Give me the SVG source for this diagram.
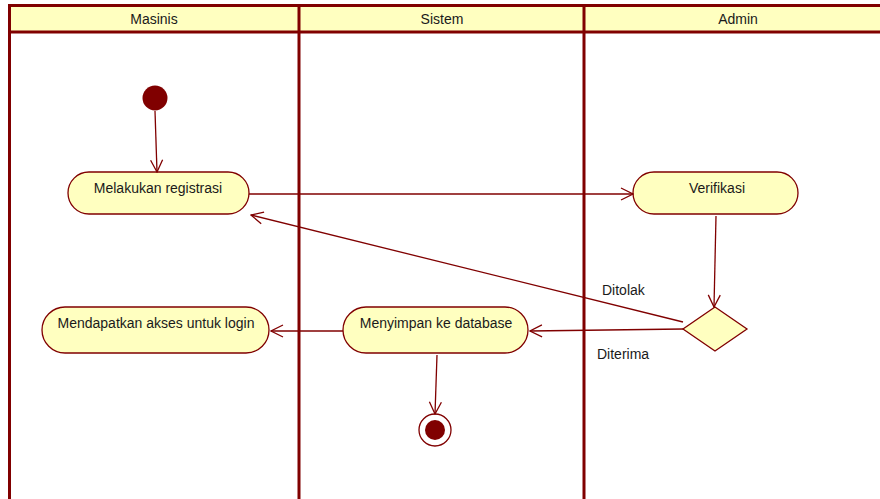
<svg xmlns="http://www.w3.org/2000/svg" width="880" height="499" viewBox="0 0 880 499">
  <style>
    .lane { stroke: #800000; stroke-width: 3; fill: none; }
    .head { fill: #ffffc0; }
    .act { fill: #ffffc0; stroke: #800000; stroke-width: 1.3; }
    .txt { font-family: "Liberation Sans", Arial, sans-serif; font-size: 14px; fill: #1a1a1a; text-anchor: middle; }
    .lbl { font-family: "Liberation Sans", Arial, sans-serif; font-size: 14px; fill: #1a1a1a; }
    .flow { stroke: #800000; stroke-width: 1.3; fill: none; marker-end: url(#open); }
  </style>
  <defs>
    <marker id="open" viewBox="0 0 14 14" refX="13" refY="7" markerWidth="14" markerHeight="14" markerUnits="userSpaceOnUse" orient="auto">
      <path d="M1,1 L13,7 L1,13" fill="none" stroke="#800000" stroke-width="1.3"/>
    </marker>
  </defs>
  <rect width="880" height="499" fill="#ffffff"/>

  <!-- swimlanes -->
  <g id="lanes">
    <rect class="head" x="9" y="5" width="871" height="27"/>
    <line class="lane" x1="9" y1="5.5" x2="880" y2="5.5"/>
    <line class="lane" x1="9" y1="32" x2="880" y2="32"/>
    <line class="lane" x1="9.5" y1="4" x2="9.5" y2="499"/>
    <line class="lane" x1="299" y1="4" x2="299" y2="499"/>
    <line class="lane" x1="584" y1="4" x2="584" y2="499"/>
    <text class="txt" x="154" y="24">Masinis</text>
    <text class="txt" x="442" y="24">Sistem</text>
    <text class="txt" x="738" y="24">Admin</text>
  </g>

  <!-- nodes -->
  <g id="start">
    <circle cx="155" cy="98" r="12.5" fill="#800000"/>
  </g>
  <g id="registrasi">
    <rect class="act" x="68" y="172" width="181" height="42" rx="21"/>
    <text class="txt" x="158" y="193">Melakukan registrasi</text>
  </g>
  <g id="verifikasi">
    <rect class="act" x="633" y="172" width="165" height="42" rx="21"/>
    <text class="txt" x="717" y="193">Verifikasi</text>
  </g>
  <g id="keputusan">
    <polygon class="act" points="715,307 747,329 715,351 683,329"/>
  </g>
  <g id="menyimpan">
    <rect class="act" x="343" y="307" width="185" height="46" rx="23"/>
    <text class="txt" x="436" y="328">Menyimpan ke database</text>
  </g>
  <g id="akses">
    <rect class="act" x="42" y="307" width="227" height="46" rx="23"/>
    <text class="txt" x="156" y="328">Mendapatkan akses untuk login</text>
  </g>
  <g id="end">
    <circle cx="435" cy="430" r="16" fill="#ffffff" stroke="#800000" stroke-width="1.3"/>
    <circle cx="435" cy="430" r="10" fill="#800000"/>
  </g>

  <!-- connectors -->
  <g id="connectors">
    <line class="flow" x1="155" y1="111" x2="157" y2="172"/>
    <line class="flow" x1="249" y1="194" x2="633" y2="194"/>
    <line class="flow" x1="716" y1="216" x2="714" y2="307"/>
    <line class="flow" x1="683" y1="322" x2="251" y2="215"/>
    <line class="flow" x1="683" y1="329" x2="530" y2="331"/>
    <line class="flow" x1="343" y1="331" x2="271" y2="331"/>
    <line class="flow" x1="437" y1="355" x2="435" y2="414"/>
    <text class="lbl" x="602" y="295">Ditolak</text>
    <text class="lbl" x="597" y="359">Diterima</text>
  </g>
</svg>
